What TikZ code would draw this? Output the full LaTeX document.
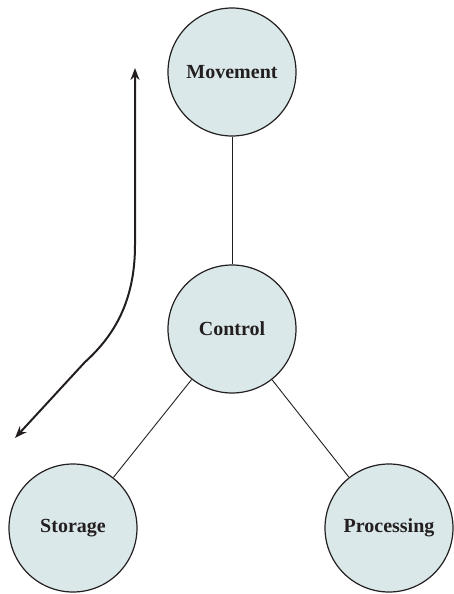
\documentclass[tikz,border=0pt]{standalone}
\usepackage{fontspec}
\setmainfont{Liberation Serif}
\usetikzlibrary{arrows.meta}
\definecolor{cfill}{RGB}{219,232,233}
\definecolor{cline}{RGB}{35,31,32}
\begin{document}
\begin{tikzpicture}[x=1pt,y=-1pt,
  unit/.style={circle,draw=cline,fill=cfill,line width=1.2pt,minimum size=128pt,inner sep=0pt,font=\fontsize{20}{22}\selectfont\bfseries,text=cline},
  link/.style={draw=cline,line width=0.9pt},
  flow/.style={draw=cline,line width=2pt,{Stealth[length=12pt,width=9pt]}-{Stealth[length=12pt,width=9pt]}}]
\useasboundingbox (0,0) rectangle (454,594);
\node[unit] (mov) at (232,72) {Movement};
\node[unit] (ctl) at (232,329) {Control};
\node[unit] (sto) at (73,528) {Storage};
\node[unit] (pro) at (389,528) {Processing};
\draw[link] (mov) -- (ctl);
\draw[link] (ctl) -- (sto);
\draw[link] (ctl) -- (pro);
\coordinate (atop) at (135,68);
\coordinate (abot) at (15,438);
\draw[flow] (atop) -- (135,245) .. controls (135,300) and (115,335) .. (85,362) -- (abot);
\end{tikzpicture}
\end{document}
